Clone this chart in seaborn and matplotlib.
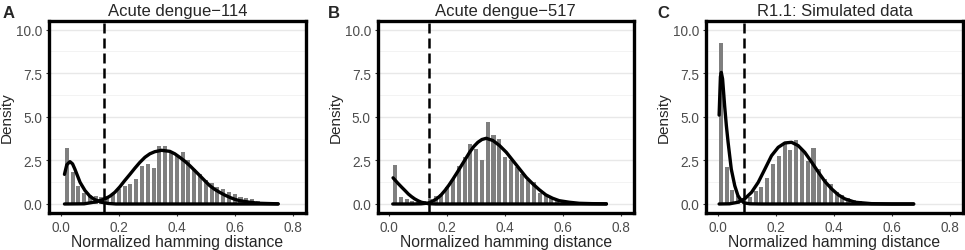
import numpy as np
import pandas as pd
import matplotlib
matplotlib.use("Agg")
import matplotlib.pyplot as plt
import seaborn as sns
from matplotlib.ticker import MultipleLocator, FormatStrFormatter

# histogram bins (centres) and heights
centers_a = [0.02, 0.04, 0.06, 0.08, 0.10, 0.12, 0.14, 0.16, 0.18, 0.20, 0.22, 0.24, 0.26,
             0.28, 0.30, 0.32, 0.34, 0.36, 0.38, 0.40, 0.42, 0.44, 0.46, 0.48, 0.50, 0.52,
             0.54, 0.56, 0.58, 0.60, 0.62, 0.64, 0.66, 0.68, 0.70, 0.72, 0.74]
heights_a = [3.2, 1.85, 1.05, 0.63, 0.52, 0.45, 0.4, 0.45, 0.58, 0.86, 1.05, 1.15, 1.42,
             2.2, 2.3, 2.05, 3.3, 3.35, 3.05, 2.8, 3.0, 2.52, 2.0, 1.72, 1.4, 1.2,
             1.0, 0.86, 0.68, 0.55, 0.42, 0.33, 0.27, 0.2, 0.14, 0.09, 0.05]

centers_b = centers_a
heights_b = [2.24, 0.42, 0.29, 0.17, 0.13, 0.2, 0.28, 0.45, 0.6, 0.97, 1.43, 2.2, 2.68,
             3.44, 3.15, 2.54, 4.68, 3.97, 3.73, 2.7, 2.5, 2.1, 1.72, 1.38, 1.24, 0.65,
             0.54, 0.42, 0.29, 0.21, 0.16, 0.11, 0.08, 0.06, 0.04, 0.03, 0.02]

centers_c = [0.01, 0.03, 0.05, 0.07, 0.09, 0.11, 0.13, 0.15, 0.17, 0.19, 0.21, 0.23, 0.25,
             0.27, 0.29, 0.31, 0.33, 0.35, 0.37, 0.39, 0.41, 0.43, 0.45, 0.47, 0.49, 0.51,
             0.53, 0.55, 0.57, 0.59, 0.61, 0.63, 0.65, 0.67]
heights_c = [9.24, 2.12, 0.8, 0.45, 0.35, 0.38, 0.72, 0.98, 1.5, 2.3, 2.77, 3.58, 3.1,
             3.7, 3.15, 2.49, 3.19, 2.0, 1.43, 1.15, 0.67, 0.5, 0.33, 0.23, 0.15, 0.1,
             0.07, 0.05, 0.03, 0.02, 0.02, 0.01, 0.01, 0.01]

# mixture component curves
comp1_a_x = [0.012, 0.02, 0.031, 0.04, 0.048, 0.057, 0.066, 0.083, 0.10, 0.117, 0.14, 0.163, 0.19, 0.25, 0.75]
comp1_a_y = [1.7, 2.25, 2.43, 2.3, 2.0, 1.62, 1.24, 0.77, 0.44, 0.25, 0.1, 0.03, 0.0, 0.0, 0.0]
comp2_a_x = [0.012, 0.08, 0.12, 0.152, 0.17, 0.186, 0.203, 0.22, 0.238, 0.255, 0.272, 0.29, 0.307,
             0.324, 0.347, 0.376, 0.393, 0.41, 0.428, 0.445, 0.462, 0.48, 0.497, 0.514, 0.531,
             0.548, 0.566, 0.583, 0.6, 0.617, 0.652, 0.686, 0.75]
comp2_a_y = [0.0, 0.01, 0.12, 0.29, 0.46, 0.67, 0.98, 1.34, 1.7, 2.05, 2.38, 2.68, 2.88,
             3.0, 3.08, 3.02, 2.88, 2.68, 2.45, 2.2, 1.92, 1.62, 1.33, 1.05, 0.84,
             0.67, 0.51, 0.38, 0.27, 0.19, 0.1, 0.04, 0.01]

comp1_b_x = [0.013, 0.028, 0.043, 0.055, 0.066, 0.077, 0.088, 0.1, 0.111, 0.134, 0.16, 0.2, 0.75]
comp1_b_y = [1.5, 1.22, 0.96, 0.76, 0.57, 0.42, 0.29, 0.18, 0.1, 0.02, 0.0, 0.0, 0.0]
comp2_b_x = [0.012, 0.08, 0.11, 0.134, 0.148, 0.163, 0.178, 0.192, 0.206, 0.22, 0.235, 0.249, 0.264,
             0.278, 0.292, 0.306, 0.32, 0.335, 0.358, 0.381, 0.404, 0.427, 0.45, 0.473,
             0.496, 0.518, 0.541, 0.564, 0.587, 0.622, 0.656, 0.7, 0.75]
comp2_b_y = [0.0, 0.0, 0.01, 0.05, 0.15, 0.29, 0.5, 0.77, 1.08, 1.43, 1.82, 2.2, 2.6,
             2.98, 3.3, 3.54, 3.7, 3.77, 3.64, 3.35, 2.97, 2.49, 2.01, 1.53,
             1.15, 0.82, 0.52, 0.33, 0.19, 0.1, 0.04, 0.02, 0.01]

comp1_c_x = [0.004, 0.0085, 0.0115, 0.016, 0.023, 0.029, 0.035, 0.046, 0.058, 0.069, 0.081, 0.092, 0.11, 0.15, 0.676]
comp1_c_y = [5.1, 7.3, 7.55, 7.17, 5.64, 4.5, 3.54, 2.0, 1.05, 0.48, 0.19, 0.06, 0.01, 0.0, 0.0]
comp2_c_x = [0.004, 0.04, 0.069, 0.092, 0.116, 0.139, 0.162, 0.185, 0.208, 0.231, 0.254, 0.277,
             0.30, 0.324, 0.347, 0.37, 0.393, 0.416, 0.439, 0.474, 0.53, 0.6, 0.676]
comp2_c_y = [0.0, 0.01, 0.1, 0.29, 0.67, 1.24, 2.0, 2.77, 3.25, 3.5, 3.54, 3.35,
             2.96, 2.39, 1.82, 1.28, 0.86, 0.52, 0.29, 0.1, 0.02, 0.0, 0.0]

cutoffs = [0.15, 0.138, 0.09]
titles = ["Acute dengue\u2212114", "Acute dengue\u2212517", "R1.1: Simulated data"]
letters = ["A", "B", "C"]

panels = [
    (centers_a, heights_a, comp1_a_x, comp1_a_y, comp2_a_x, comp2_a_y),
    (centers_b, heights_b, comp1_b_x, comp1_b_y, comp2_b_x, comp2_b_y),
    (centers_c, heights_c, comp1_c_x, comp1_c_y, comp2_c_x, comp2_c_y),
]

sns.set_style("white")
plt.rcParams['font.family'] = ['Liberation Sans', 'DejaVu Sans']

fig = plt.figure(figsize=(9.65, 2.51), dpi=100)
lefts = [0.0512, 0.3914, 0.732]
letter_x = [0.003, 0.340, 0.681]
width = 0.2655
bottom, height = 0.1486, 0.7638

for i, (centers, heights, c1x, c1y, c2x, c2y) in enumerate(panels):
    ax = fig.add_axes([lefts[i], bottom, width, height])
    hist_df = pd.DataFrame({'dist': centers, 'dens': heights})
    edges = [c - 0.01 for c in centers] + [centers[-1] + 0.01]
    sns.histplot(data=hist_df, x='dist', weights='dens', bins=edges, shrink=0.7,
                 color='#7f7f7f', alpha=1, edgecolor='none', linewidth=0, ax=ax)
    sns.lineplot(x=c1x, y=c1y, color='black', linewidth=2.4, sort=False, ax=ax)
    sns.lineplot(x=c2x, y=c2y, color='black', linewidth=2.4, sort=False, ax=ax)
    ax.axvline(cutoffs[i], color='black', linewidth=1.8, linestyle=(0, (4, 2)))

    ax.set_xlim(-0.04, 0.845)
    ax.set_ylim(-0.5, 10.5)
    ax.xaxis.set_major_locator(MultipleLocator(0.2))
    ax.xaxis.set_major_formatter(FormatStrFormatter('%.1f'))
    ax.yaxis.set_major_locator(MultipleLocator(2.5))
    ax.yaxis.set_minor_locator(MultipleLocator(1.25))
    ax.yaxis.set_major_formatter(FormatStrFormatter('%.1f'))
    ax.set_axisbelow(True)
    ax.grid(axis='y', which='major', color='#e8e8e8', linewidth=1.0)
    ax.grid(axis='y', which='minor', color='#f3f3f3', linewidth=0.7)
    ax.grid(axis='x', visible=False)
    for sp in ax.spines.values():
        sp.set_visible(True)
        sp.set_color('black')
        sp.set_linewidth(2.4)
    ax.tick_params(axis='both', which='major', length=2.5, width=0.8, color='#333333',
                   labelcolor='#4d4d4d', labelsize=9.8, pad=2.5, bottom=True, left=True)
    ax.tick_params(axis='y', which='minor', length=0)
    ax.set_xlabel("Normalized hamming distance", fontsize=11.3, labelpad=0)
    ax.set_ylabel("Density", fontsize=11, labelpad=1.5)
    ax.set_title(titles[i], fontsize=12, pad=4)
    fig.text(letter_x[i], 0.93, letters[i], fontsize=12, fontweight='bold',
             ha='left', va='baseline')

fig.savefig("out.png", dpi=100)
